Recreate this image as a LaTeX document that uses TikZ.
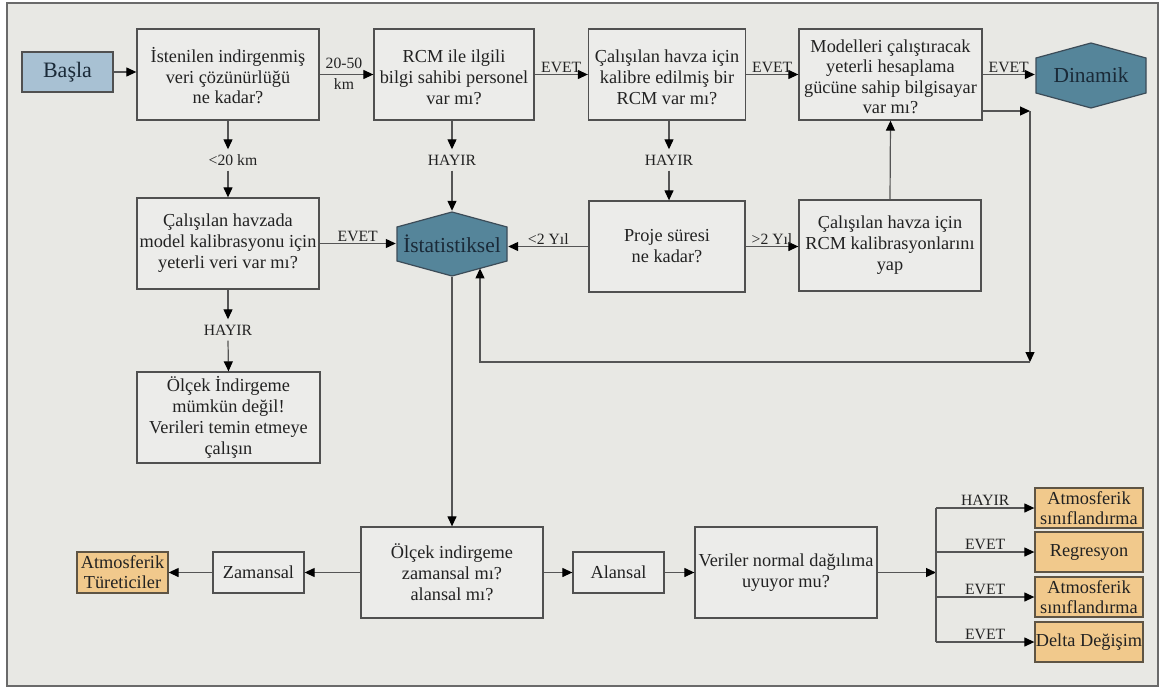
\documentclass[tikz,border=0pt]{standalone}
\usepackage{fontspec}
\setmainfont{Liberation Serif}
\newfontfamily\tnr{Liberation Serif}
\usetikzlibrary{arrows.meta,calc}
\definecolor{bgc}{HTML}{E8E8E4}
\definecolor{boxc}{HTML}{ECECEA}
\definecolor{edgec}{HTML}{505050}
\definecolor{framec}{HTML}{6A6A6A}
\definecolor{linec}{HTML}{555555}
\definecolor{hexc}{HTML}{55859A}
\definecolor{hexedge}{HTML}{3C4C58}
\definecolor{startc}{HTML}{A8C1D3}
\definecolor{orc}{HTML}{F1C98C}
\definecolor{oredge}{HTML}{5E5444}
\definecolor{txtc}{HTML}{222222}
\definecolor{darktxt}{HTML}{1A2A38}
\begin{document}
\begin{tikzpicture}[x=1pt,y=-1pt,
  box/.style={draw=edgec, line width=1.3pt, fill=boxc, inner sep=0pt, align=center, text=txtc, font={\tnr\fontsize{18.3pt}{21pt}\selectfont}},
  qbox/.style={box, minimum height=91pt},
  sbox/.style={box, minimum width=91pt, minimum height=41pt},
  obox/.style={box, fill=orc, draw=oredge, minimum width=108pt, minimum height=40pt, font={\tnr\fontsize{18.3pt}{20.5pt}\selectfont}},
  hexn/.style={inner sep=0pt, text=darktxt, font={\tnr\fontsize{21.4pt}{24pt}\selectfont},
    path picture={\draw[draw=hexedge, fill=hexc, line width=1.2pt]
      ([yshift=-1pt]path picture bounding box.north)
      -- ([xshift=-1pt,yshift=-16pt]path picture bounding box.north east)
      -- ([xshift=-1pt,yshift=16pt]path picture bounding box.south east)
      -- ([yshift=1pt]path picture bounding box.south)
      -- ([xshift=1pt,yshift=16pt]path picture bounding box.south west)
      -- ([xshift=1pt,yshift=-16pt]path picture bounding box.north west)
      -- cycle;}},
  lbl/.style={text=txtc, font={\tnr\fontsize{15.7pt}{21pt}\selectfont}, inner sep=1.5pt, align=center},
  vlbl/.style={lbl, minimum height=21pt, inner sep=0pt},
  conn/.style={draw=linec, line width=1.2pt},
  arr/.style={conn, -{Triangle[length=10pt,width=9pt,color=black]}},
]
\useasboundingbox (0,0) rectangle (1161,688);
\fill[white] (0,0) rectangle (1161,688);
\draw[fill=bgc, draw=framec, line width=1.5pt] (7,3) rectangle (1158,686);

% top row
\node[box, fill=startc, minimum width=91pt, minimum height=40pt, text=darktxt, font={\tnr\fontsize{22pt}{24pt}\selectfont}] (basla) at (67.5,72) {Başla};
\node[qbox, minimum width=182pt, font={\tnr\fontsize{18.3pt}{20.5pt}\selectfont}] (q1) at (228,74.5) {\rule{0pt}{18pt}İstenilen indirgenmiş\\veri çözünürlüğü\\ne kadar?};
\node[qbox, minimum width=160pt] (q2) at (454,74.5) {\rule{0pt}{18pt}RCM ile ilgili\\bilgi sahibi personel\\var mı?};
\node[qbox, minimum width=157pt] (q3) at (667,74.5) {\rule{0pt}{18pt}Çalışılan havza için\\kalibre edilmiş bir\\RCM var mı?};
\node[qbox, minimum width=183pt, font={\tnr\fontsize{18.3pt}{20.3pt}\selectfont}] (q4) at (890.5,74.5) {\rule{0pt}{17pt}Modelleri çalıştıracak\\yeterli hesaplama\\gücüne sahip bilgisayar\\var mı?};
\node[hexn, minimum width=112pt, minimum height=67pt] (din) at (1091,75.5) {Dinamik};

% middle row
\node[qbox, minimum width=182pt] (q5) at (228,243.5) {Çalışılan havzada\\model kalibrasyonu için\\yeterli veri var mı?};
\node[hexn, minimum width=112pt, minimum height=66pt] (ist) at (452,244) {İstatistiksel};
\node[qbox, minimum width=156pt] (q6) at (667,246.5) {Proje süresi\\ne kadar?};
\node[qbox, minimum width=182pt] (q7) at (890,245.5) {Çalışılan havza için\\RCM kalibrasyonlarını\\yap};
\node[qbox, minimum width=183pt] (q8) at (228.5,417.5) {Ölçek İndirgeme\\mümkün değil!\\Verileri temin etmeye\\çalışın};

% bottom row
\node[qbox, minimum width=182pt] (q9) at (452,572.5) {Ölçek indirgeme\\zamansal mı?\\alansal mı?};
\node[sbox] (zam) at (258.5,572.5) {Zamansal};
\node[obox, minimum width=91pt, minimum height=41pt, font={\tnr\fontsize{18.3pt}{20pt}\selectfont}] (atd) at (122.5,572.5) {Atmosferik\\Türeticiler};
\node[sbox] (ala) at (618.5,572.5) {Alansal};
\node[qbox, minimum width=182pt] (q10) at (786,572.5) {Veriler normal dağılıma\\uyuyor mu?};
\node[obox] (r1) at (1089,508) {Atmosferik\\sınıflandırma};
\node[obox] (r2) at (1089,552) {Regresyon};
\node[obox] (r3) at (1089,597) {Atmosferik\\sınıflandırma};
\node[obox] (r4) at (1089,642) {Delta Değişim};

% vertical labels
\node[vlbl] (l20) at (233,160) {<20 km};
\node[vlbl] (h2) at (452,160) {HAYIR};
\node[vlbl] (h3) at (669,160) {HAYIR};
\node[vlbl] (h5) at (228,330) {HAYIR};

% top connectors
\draw[arr] (basla) -- (basla.east -| q1.west);
\draw[arr] (q1.east) -- (q1.east -| q2.west);
\node[lbl, inner sep=0pt] (l2050) at (344,74) {20-50\\km};
\draw[arr] (q2.east) -- (q2.east -| q3.west) node[lbl, midway, above] (e1) {EVET};
\draw[arr] (q3.east) -- (q3.east -| q4.west) node[lbl, midway, above] (e2) {EVET};
\draw[arr] (q4.east) -- (q4.east -| din.west) node[lbl, midway, above] (e3) {EVET};

\draw[arr] (q1.south) -- (q1.south |- l20.north);
\draw[arr] (q1.south |- l20.south) -- (q5.north);
\draw[arr] (ist.north |- q2.south) -- (h2.north);
\draw[arr] (h2.south) -- (ist.north);
\draw[arr] (h3.north |- q3.south) -- (h3.north);
\draw[arr] (h3.south) -- (h3.south |- q6.north);
\draw[arr] (q5.south) -- (h5.north);
\draw[arr] (h5.south) -- (q8.north);

% middle connectors
\draw[arr] (q5.east) -- (q5.east -| ist.west) node[lbl, midway, above] (e4) {EVET};
\draw[arr] (q6.west) -- (q6.west -| ist.east) node[lbl, midway, above] (y1) {<2 Yıl};
\draw[arr] (q6.east) -- (q6.east -| q7.west) node[lbl, midway, above] (y2) {>2 Yıl};
\draw[arr] (q7.north) -- (q4.south);

% feedback loop
\coordinate (c1) at (1030,111);
\coordinate (c2) at (1030,362);
\coordinate (c3) at (480,362);
\coordinate (c4) at (480,268.4);
\draw[arr] (q4.east |- c1) -- (c1);
\draw[arr] (c1) -- (c2);
\draw[arr] (c2) -- (c3) -- (c4);

% bottom connectors
\draw[arr] (ist.south) -- (q9.north);
\draw[arr] (q9.west) -- (zam.east);
\draw[arr] (zam.west) -- (atd.east);
\draw[arr] (q9.east) -- (ala.west);
\draw[arr] (ala.east) -- (q10.west);

\coordinate (b0) at (936,572.5);
\coordinate (b1) at (936,508);
\coordinate (b2) at (936,552);
\coordinate (b3) at (936,597);
\coordinate (b4) at (936,642);
\draw[arr] (q10.east) -- (b0);
\draw[conn] (b1) -- (b4);
\draw[arr] (b1) -- (r1.west) node[lbl, midway, above] (rl1) {HAYIR};
\draw[arr] (b2) -- (r2.west) node[lbl, midway, above] (rl2) {EVET};
\draw[arr] (b3) -- (r3.west) node[lbl, midway, above] (rl3) {EVET};
\draw[arr] (b4) -- (r4.west) node[lbl, midway, above] (rl4) {EVET};
\end{tikzpicture}
\end{document}
